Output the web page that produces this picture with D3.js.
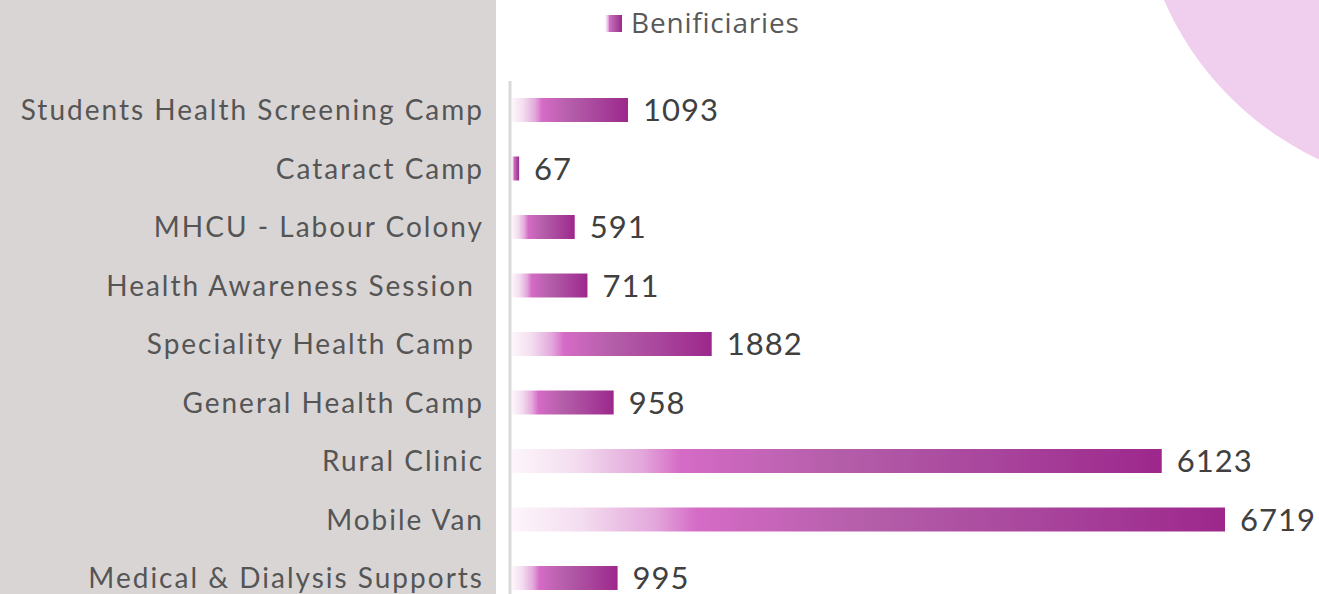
<!DOCTYPE html>
<html>
<head>
<meta charset="utf-8">
<script src="https://cdn.jsdelivr.net/npm/d3@7"></script>
<style>
  html, body { margin: 0; padding: 0; background: #fff; overflow: hidden; }
  svg { display: block; }
  .cat { white-space: pre; }
</style>
</head>
<body>
<div id="chart"></div>
<script>
// data
var categories = [
  "Students Health Screening Camp",
  "Cataract Camp",
  "MHCU - Labour Colony",
  "Health Awareness Session ",
  "Speciality Health Camp ",
  "General Health Camp",
  "Rural Clinic",
  "Mobile Van",
  "Medical & Dialysis Supports"
];
var beneficiaries = [1093, 67, 591, 711, 1882, 958, 6123, 6719, 995];
var seriesName = "Benificiaries";

var width = 1319, height = 594;

var svg = d3.select('#chart').append('svg')
  .attr('width', width)
  .attr('height', height);

var defs = svg.append('defs');
var grad = defs.append('linearGradient')
  .attr('id', 'barGrad')
  .attr('x1', '0%').attr('y1', '0%')
  .attr('x2', '100%').attr('y2', '0%');
[
  [0, '#fdf6fb'],
  [0.1, '#f3dcef'],
  [0.2, '#e3a7db'],
  [0.26, '#d56bc6'],
  [0.5, '#b45ea9'],
  [0.75, '#a8449c'],
  [1, '#9d278c']
].forEach(function(s) {
  grad.append('stop').attr('offset', s[0]).attr('stop-color', s[1]);
});

// gray side panel
svg.append('rect')
  .attr('x', 0).attr('y', 0)
  .attr('width', 496).attr('height', height)
  .attr('fill', '#d9d5d5');

// decorative circle top right
svg.append('circle')
  .attr('cx', 1452).attr('cy', -125).attr('r', 314)
  .attr('fill', '#f0cfee');

var x = d3.scaleLinear()
  .domain([0, d3.max(beneficiaries)])
  .range([512, 1225]);

var y = d3.scaleBand()
  .domain(categories)
  .range([80.75, 607.25])
  .paddingInner(0.59)
  .paddingOuter(0.295);

// axis line
svg.append('line')
  .attr('x1', 510).attr('x2', 510)
  .attr('y1', 81).attr('y2', height)
  .attr('stroke', '#d9d9d9')
  .attr('stroke-width', 3);

var rows = svg.append('g').selectAll('g')
  .data(categories)
  .enter().append('g');

rows.append('rect')
  .attr('x', x(0))
  .attr('y', function(d) { return y(d); })
  .attr('height', y.bandwidth())
  .attr('width', function(d, i) { return x(beneficiaries[i]) - x(0); })
  .attr('fill', 'url(#barGrad)');

rows.append('text')
  .attr('class', 'cat')
  .attr('x', 484)
  .attr('y', function(d) { return y(d) + y.bandwidth() / 2; })
  .attr('dy', '0.36em')
  .attr('text-anchor', 'end')
  .attr('font-family', 'Lato, sans-serif')
  .attr('font-size', 28)
  .attr('letter-spacing', 2)
  .attr('fill', '#555555')
  .text(function(d) { return d; });

rows.append('text')
  .attr('x', function(d, i) { return x(beneficiaries[i]) + 15; })
  .attr('y', function(d) { return y(d) + y.bandwidth() / 2; })
  .attr('dy', '0.36em')
  .attr('font-family', 'Lato, sans-serif')
  .attr('font-size', 31)
  .attr('letter-spacing', 1)
  .attr('fill', '#404040')
  .text(function(d, i) { return beneficiaries[i]; });

// legend
var legend = svg.append('g');
legend.append('rect')
  .attr('x', 605).attr('y', 15)
  .attr('width', 17).attr('height', 17)
  .attr('fill', 'url(#barGrad)');
legend.append('text')
  .attr('x', 631).attr('y', 23)
  .attr('dy', '0.36em')
  .attr('font-family', '"Open Sans", sans-serif')
  .attr('font-size', 28)
  .attr('letter-spacing', 0.8)
  .attr('fill', '#595959')
  .text(seriesName);
</script>
</body>
</html>
